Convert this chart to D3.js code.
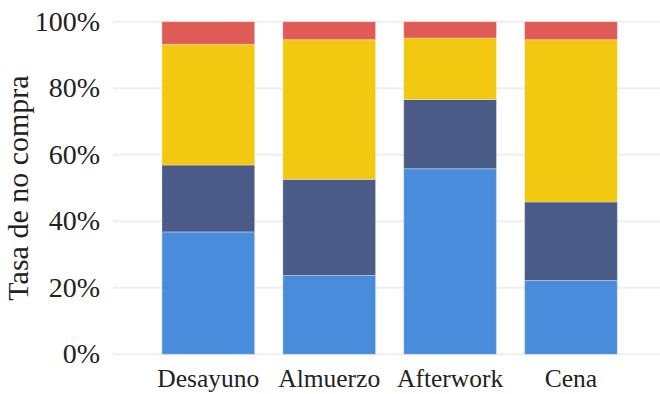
<!DOCTYPE html>
<html>
<head>
<meta charset="utf-8">
<script src="https://cdn.jsdelivr.net/npm/d3@7"></script>
<style>
  html, body { margin: 0; padding: 0; background: #fff; }
  svg { display: block; }
</style>
</head>
<body>
<svg id="chart" width="660" height="394"></svg>
<script>
// Meal moments on the x axis
const categories = ["Desayuno", "Almuerzo", "Afterwork", "Cena"];
// Stacked segments, bottom to top (percent of each bar)
const seriesKeys = ["s1", "s2", "s3", "s4"];
const s1 = [36.8, 23.7, 55.8, 22.2];
const s2 = [20.1, 28.9, 20.8, 23.6];
const s3 = [36.3, 42.0, 18.5, 48.8];
const s4 = [6.8, 5.4, 4.9, 5.4];
const seriesColors = ["#4a8cdc", "#4a5b88", "#f2c811", "#de5b56"];
const yTicks = [0, 0.2, 0.4, 0.6, 0.8, 1.0];
const yTitle = "Tasa de no compra";

const FONT = '"Liberation Serif", Tinos, "Times New Roman", serif';

const rows = categories.map((c, i) => ({
  cat: c,
  s1: s1[i] / 100, s2: s2[i] / 100, s3: s3[i] / 100, s4: s4[i] / 100
}));

const svg = d3.select("#chart");

const x = d3.scaleBand()
  .domain(categories)
  .range([113.6, 665.7])
  .paddingInner(0.233)
  .paddingOuter(0.4);

const y = d3.scaleLinear().domain([0, 1]).range([354.3, 21.7]);

// Horizontal gridlines
svg.append("g")
  .selectAll("line")
  .data(yTicks)
  .join("line")
  .attr("x1", 113).attr("x2", 660)
  .attr("y1", d => y(d)).attr("y2", d => y(d))
  .attr("stroke", "#eeeeee")
  .attr("stroke-width", 2);

function styleText(sel, size) {
  sel.style("font-family", FONT)
    .style("font-size", size)
    .attr("fill", "#222");
}

// Y axis labels
const yAxis = d3.axisLeft(y)
  .tickValues(yTicks)
  .tickFormat(d3.format(".0%"))
  .tickSize(0)
  .tickPadding(0);
const gy = svg.append("g").attr("transform", "translate(100,0)").call(yAxis);
gy.select(".domain").remove();
gy.selectAll("text").call(styleText, "28px").attr("dy", "0.31em");

// X axis labels
const xAxis = d3.axisBottom(x).tickSize(0).tickPadding(0);
const gx = svg.append("g").attr("transform", "translate(0,387)").call(xAxis);
gx.select(".domain").remove();
gx.selectAll("text").call(styleText, "25.5px").attr("dy", 0).attr("y", 0);

// Stacked bars
const stacked = d3.stack().keys(seriesKeys)(rows);
svg.append("g")
  .selectAll("g")
  .data(stacked)
  .join("g")
  .attr("fill", (d, i) => seriesColors[i])
  .selectAll("rect")
  .data(d => d)
  .join("rect")
  .attr("x", d => x(d.data.cat))
  .attr("width", x.bandwidth())
  .attr("y", d => y(d[1]))
  .attr("height", d => y(d[0]) - y(d[1]))
  .attr("stroke", "#ffffff")
  .attr("stroke-opacity", 0.3)
  .attr("stroke-width", 1);

// Y axis title
svg.append("text")
  .attr("transform", `translate(28,${(y(0) + y(1)) / 2}) rotate(-90)`)
  .attr("text-anchor", "middle")
  .call(styleText, "30px")
  .text(yTitle);
</script>
</body>
</html>
